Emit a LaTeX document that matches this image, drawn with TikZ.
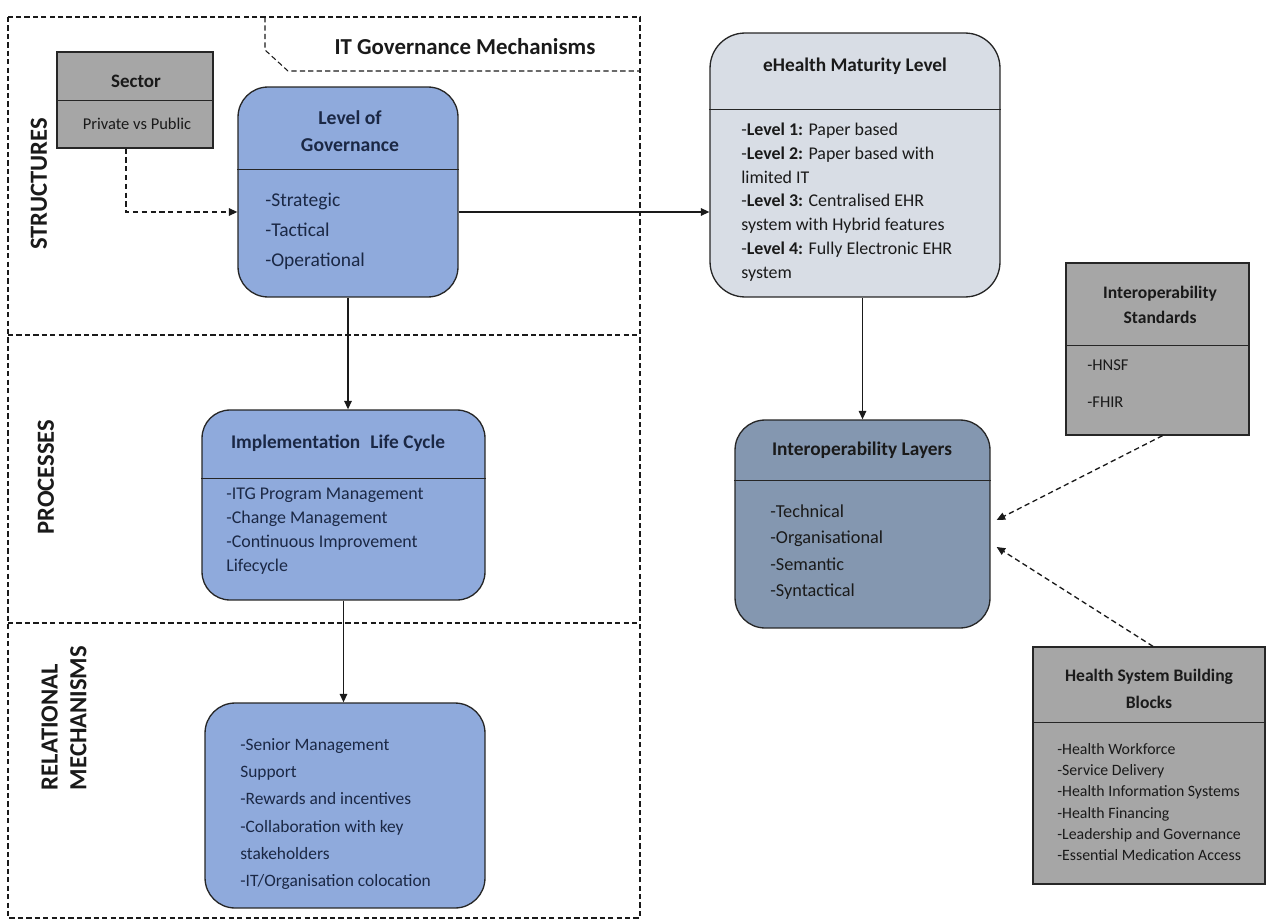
\documentclass[tikz,border=0pt]{standalone}
\usepackage{fontspec}
\setmainfont{Carlito}
\usetikzlibrary{arrows.meta,calc}
\definecolor{grayfill}{HTML}{A6A6A6}
\definecolor{bluefill}{HTML}{8FAADC}
\definecolor{palefill}{HTML}{D8DDE5}
\definecolor{slatefill}{HTML}{8497B0}
\definecolor{navy}{HTML}{1B2845}
\definecolor{edge}{HTML}{262626}
\definecolor{ink}{HTML}{1A1A1A}

\begin{document}
\begin{tikzpicture}[x=0.02cm,y=-0.02cm,
  panel/.style={draw=edge, line width=0.75pt, inner sep=0pt},
  flatpanel/.style={panel, fill=grayfill},
  roundpanel/.style={panel, rounded corners=0.6cm},
  txt/.style={inner sep=0pt, align=left},
  ctxt/.style={inner sep=0pt, align=center},
  flow/.style={draw=ink, line width=0.75pt, -{Triangle[length=1.7mm,width=1.5mm]}},
  dashflow/.style={flow, dash pattern=on 3pt off 2pt},
  frame/.style={draw=ink, line width=0.6pt, dash pattern=on 3pt off 1.8pt},
  sidelabel/.style={inner sep=0pt, rotate=90, font=\fontsize{14}{16.4}\selectfont\bfseries, text=ink, align=left}
]
\useasboundingbox (0,0) rectangle (1266,922);

% dashed frame with its three bands
\draw[frame] (8,17) rectangle (640,918);
\draw[frame] (8,335) -- (640,335);
\draw[frame] (8,623) -- (640,623);
\draw[frame] (265,17) -- (265,50) -- (288,71) -- (640,71);
\node[ctxt, font=\fontsize{13}{15}\selectfont\bfseries, text=ink] (title) at (465,47) {IT Governance Mechanisms};

% band labels
\node[sidelabel] (lblstruct) at (39,184) {STRUCTURES};
\node[sidelabel] (lblproc) at (46,477) {PROCESSES};
\node[sidelabel] (lblrel) at (64,718) {RELATIONAL\\MECHANISMS};

% sector
\node[flatpanel, minimum width=3.12cm, minimum height=1.92cm] (sector) at (135,100) {};
\draw[panel] ($(sector.north west)+(0,49)$) -- ($(sector.north east)+(0,49)$);
\node[ctxt, font=\fontsize{10.8}{12}\selectfont\bfseries, text=ink] (sectort) at (136,81) {Sector};
\node[ctxt, font=\fontsize{9.4}{11}\selectfont, text=ink] (sectori) at (137,124) {Private vs Public};

% level of governance
\node[roundpanel, fill=bluefill, minimum width=4.4cm, minimum height=4.2cm] (lvl) at (348,192) {};
\draw[panel] ($(lvl.north west)+(0,83)$) -- ($(lvl.north east)+(0,83)$);
\node[ctxt, font=\fontsize{11.2}{15.5}\selectfont\bfseries, text=navy] (lvlt) at (350,131) {Level of\\Governance};
\node[txt, anchor=west, font=\fontsize{11.1}{17}\selectfont, text=navy] (lvli) at (265,231) {-Strategic\\-Tactical\\-Operational};

% implementation life cycle
\node[roundpanel, rounded corners=0.56cm, fill=bluefill, minimum width=5.66cm, minimum height=3.8cm] (ilc) at (343.5,505) {};
\draw[panel] ($(ilc.north west)+(0,69)$) -- ($(ilc.north east)+(0,69)$);
\node[ctxt, font=\fontsize{11}{13}\selectfont\bfseries, text=navy] (ilct) at (338,443) {Implementation\hspace{0.3em} Life Cycle};
\node[txt, anchor=west, font=\fontsize{10.2}{13.6}\selectfont, text=navy] (ilci) at (226,531) {-ITG Program Management\\-Change Management\\-Continuous Improvement\\Lifecycle};

% relational mechanisms
\node[roundpanel, fill=bluefill, minimum width=5.6cm, minimum height=4.1cm] (rel) at (345,805.5) {};
\node[txt, anchor=west, font=\fontsize{9.9}{15.4}\selectfont, text=navy] (reli) at (240,814) {-Senior Management\\Support\\-Rewards and incentives\\-Collaboration with key\\stakeholders\\-IT/Organisation colocation};

% eHealth maturity level
\node[roundpanel, rounded corners=0.7cm, fill=palefill, minimum width=5.8cm, minimum height=5.28cm] (ehm) at (855,165) {};
\draw[panel] ($(ehm.north west)+(0,77)$) -- ($(ehm.north east)+(0,77)$);
\node[ctxt, font=\fontsize{11}{13}\selectfont\bfseries, text=ink] (ehmt) at (855,66) {eHealth Maturity Level};
\node[txt, anchor=west, font=\fontsize{10.2}{13.5}\selectfont, text=ink] (ehmi) at (741,202) {-\textbf{Level 1:} Paper based\\-\textbf{Level 2:} Paper based with\\limited IT\\-\textbf{Level 3:} Centralised EHR\\system with Hybrid features\\-\textbf{Level 4:} Fully Electronic EHR\\system};

% interoperability layers
\node[roundpanel, fill=slatefill, minimum width=5.1cm, minimum height=4.16cm] (ilay) at (862.5,524) {};
\draw[panel] ($(ilay.north west)+(0,61)$) -- ($(ilay.north east)+(0,61)$);
\node[ctxt, font=\fontsize{11}{13}\selectfont\bfseries, text=ink] (ilayt) at (862,450) {Interoperability Layers};
\node[txt, anchor=west, font=\fontsize{10.4}{15.1}\selectfont, text=ink] (ilayi) at (770,552) {-Technical\\-Organisational\\-Semantic\\-Syntactical};

% interoperability standards
\node[flatpanel, minimum width=3.66cm, minimum height=3.44cm] (istd) at (1157.5,349) {};
\draw[panel] ($(istd.north west)+(0,83)$) -- ($(istd.north east)+(0,83)$);
\node[ctxt, font=\fontsize{10}{14}\selectfont\bfseries, text=ink] (istdt) at (1160,305) {Interoperability\\Standards};
\node[txt, anchor=west, font=\fontsize{9.4}{21}\selectfont, text=ink] (istdi) at (1087,384) {-HNSF\\-FHIR};

% health system building blocks
\node[flatpanel, minimum width=4.64cm, minimum height=4.74cm] (hsbb) at (1149,765.5) {};
\draw[panel] ($(hsbb.north west)+(0,76)$) -- ($(hsbb.north east)+(0,76)$);
\node[ctxt, font=\fontsize{10}{15}\selectfont\bfseries, text=ink] (hsbbt) at (1149,689) {Health System Building\\Blocks};
\node[txt, anchor=west, font=\fontsize{9}{12.1}\selectfont, text=ink] (hsbbi) at (1057,802) {-Health Workforce\\-Service Delivery\\-Health Information Systems\\-Health Financing\\-Leadership and Governance\\-Essential Medication Access};

% connectors
\coordinate (lvlin) at ([yshift=-0.4cm]lvl.west);
\coordinate (lvlout) at ([yshift=-0.4cm]lvl.east);
\draw[dashflow] ([xshift=-0.18cm]sector.south) |- (lvlin);
\draw[flow] (lvlout) -- (lvlout -| ehm.west);
\draw[flow] (lvl.south) -- (lvl.south |- ilc.north);
\draw[flow] (ilc.south) -- (ilc.south |- rel.north);
\draw[flow] (ilay.north |- ehm.south) -- (ilay.north);
\coordinate (stdin) at ([xshift=0.12cm,yshift=0.08cm]ilay.east);
\coordinate (hsbbin) at ([xshift=0.12cm,yshift=-0.46cm]ilay.east);
\draw[dashflow] ([xshift=0.1cm]istd.south) -- (stdin);
\draw[dashflow] ([xshift=0.08cm]hsbb.north) -- (hsbbin);
\end{tikzpicture}
\end{document}
